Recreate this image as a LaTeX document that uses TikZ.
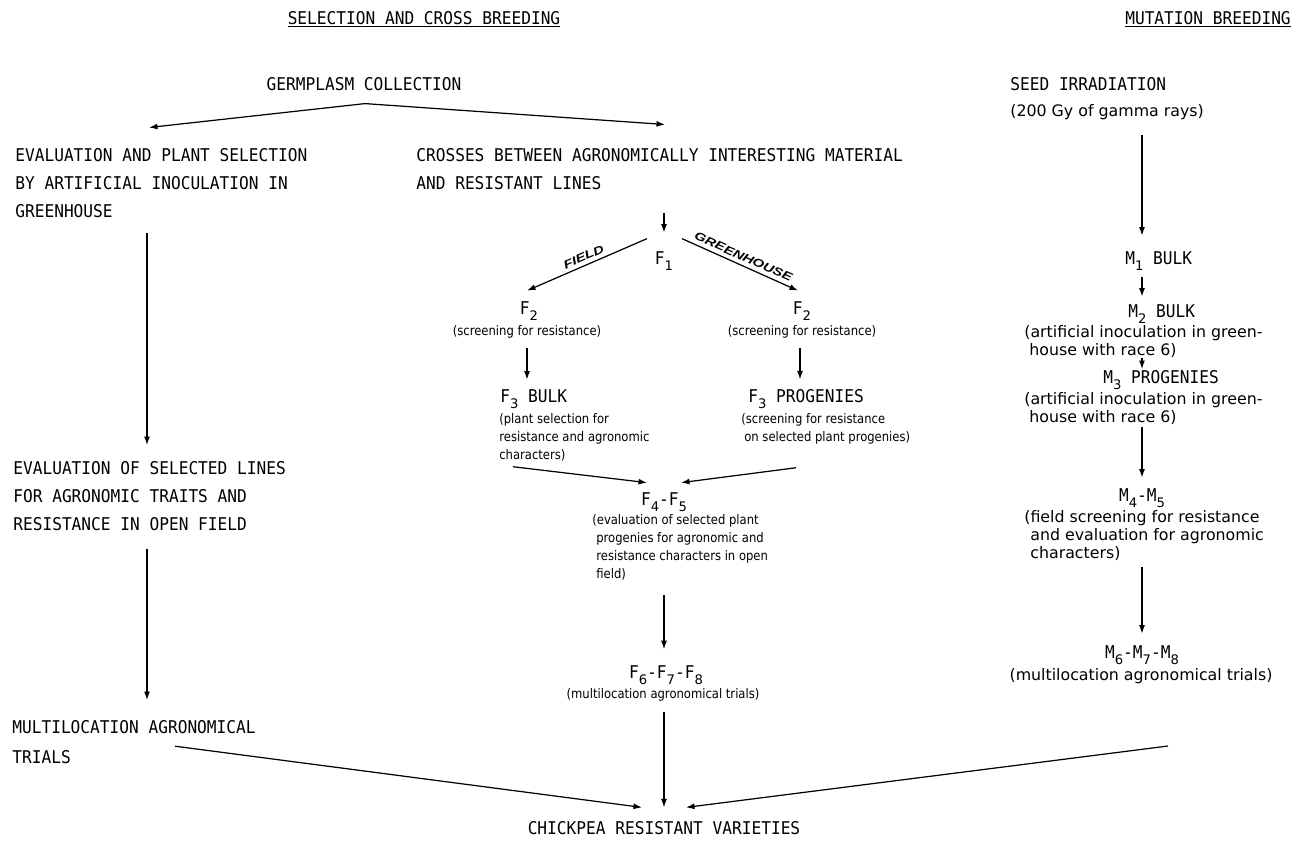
\documentclass[tikz,border=0pt]{standalone}
\usepackage{fontspec}
\usepackage{tikz}
\usetikzlibrary{arrows.meta,positioning,calc}
\newfontfamily\capsf[FakeStretch=0.92]{DejaVu Sans Mono}
\newfontfamily\descf{DejaVu Sans}
\newfontfamily\smallf[FakeStretch=0.88]{DejaVu Sans}
\newfontfamily\tagf[FakeStretch=1.3]{Liberation Sans}
\newcommand{\lo}[1]{\raisebox{-3.2pt}{\descf\fontsize{7.5}{8}\selectfont #1}}

\begin{document}
\begin{tikzpicture}[
  x=0.02cm, y=-0.02cm,
  caps/.style={font=\capsf\fontsize{10}{15.93}\selectfont, inner sep=0pt, align=left},
  desc/.style={font=\descf\fontsize{9}{10.24}\selectfont, inner sep=0pt, align=left},
  note/.style={font=\smallf\fontsize{7.5}{10.24}\selectfont, inner sep=0pt, align=left},
  tag/.style={font=\tagf\bfseries\itshape\fontsize{6.5}{7}\selectfont, inner sep=2.2pt},
  arr/.style={-{Latex[length=1.7mm,width=1.2mm]}, line width=0.7pt}
]
\useasboundingbox (0,0) rectangle (1306,842);
\coordinate (colM) at (664,0);
\coordinate (colFL) at (527,0);
\coordinate (colFR) at (800,0);
\coordinate (colR) at (1142,0);

\node[caps, anchor=base] (titleL) at (424,24) {\underline{SELECTION AND CROSS BREEDING}};
\node[caps, anchor=base] (titleR) at (1208,24) {\underline{MUTATION BREEDING}};
\node[caps, anchor=base] (germ) at (364,90.4) {GERMPLASM COLLECTION};

\node[caps, anchor=north west] (evalsel) at (15,148.5) {EVALUATION AND PLANT SELECTION\\BY ARTIFICIAL INOCULATION IN\\GREENHOUSE};
\node[caps, anchor=north west] (evalobs) at (13,461.6) {EVALUATION OF SELECTED LINES\\FOR AGRONOMIC TRAITS AND\\RESISTANCE IN OPEN FIELD};
\node[caps, anchor=north west] (multi) at (12,720.6) {MULTILOCATION AGRONOMICAL\\[0.04cm]TRIALS};

\node[caps, anchor=north west] (crosses) at (416,148.5) {CROSSES BETWEEN AGRONOMICALLY INTERESTING MATERIAL\\AND RESISTANT LINES};
\node[caps, anchor=base] (f1) at (664,264.4) {F\lo{1}};
\node[caps, anchor=base] (f2l) at (529,314.4) {F\lo{2}};
\node[note] (f2ldesc) at (527,332) {(screening for resistance)};
\node[caps, anchor=base] (f2r) at (802,314.4) {F\lo{2}};
\node[note] (f2rdesc) at (802,332) {(screening for resistance)};
\node[caps, anchor=base west] (f3l) at (500,402.4) {F\lo{3} BULK};
\node[note, anchor=north west] (f3ldesc) at (499,413.6) {(plant selection for\\resistance and agronomic\\characters)};
\node[caps, anchor=base west] (f3r) at (748,402.4) {F\lo{3} PROGENIES};
\node[note, anchor=north west] (f3rdesc) at (741,413.6) {(screening for resistance\\\hspace*{0.06cm}on selected plant progenies)};
\node[caps, anchor=base] (f45) at (664,505.4) {F\lo{4}-F\lo{5}};
\node[note, anchor=north west] (f45desc) at (592,514.6) {(evaluation of selected plant\\\hspace*{0.08cm}progenies for agronomic and\\\hspace*{0.08cm}resistance characters in open\\\hspace*{0.08cm}field)};
\node[caps, anchor=base] (f678) at (666,678.4) {F\lo{6}-F\lo{7}-F\lo{8}};
\node[note] (f678desc) at (663,695) {(multilocation agronomical trials)};
\node[caps, anchor=base] (chick) at (664,834.4) {CHICKPEA RESISTANT VARIETIES};

\node[caps, anchor=base west] (seed) at (1010,90.4) {SEED IRRADIATION};
\node[desc, anchor=west] (seeddesc) at (1010,112) {(200 Gy of gamma rays)};
\node[caps, anchor=base west] (m1) at (1125,264.4) {M\lo{1} BULK};
\node[caps, anchor=base west] (m2) at (1128,317.4) {M\lo{2} BULK};
\node[desc, anchor=north west] (m2desc) at (1024,325.3) {(artificial inoculation in green-\\\hspace*{0.1cm}house with race 6)};
\node[caps, anchor=base west] (m3) at (1103,383.4) {M\lo{3} PROGENIES};
\node[desc, anchor=north west] (m3desc) at (1024,392.3) {(artificial inoculation in green-\\\hspace*{0.1cm}house with race 6)};
\node[caps, anchor=base] (m45) at (1142,501.4) {M\lo{4}-M\lo{5}};
\node[desc, anchor=north west] (m45desc) at (1024,510.3) {(field screening for resistance\\\hspace*{0.12cm}and evaluation for agronomic\\\hspace*{0.12cm}characters)};
\node[caps, anchor=base] (m678) at (1142,658.4) {M\lo{6}-M\lo{7}-M\lo{8}};
\node[desc] (m678desc) at (1141,676) {(multilocation agronomical trials)};

\draw[arr] ($(germ.south)+(1,12.6)$) -- ($(evalsel.north west)+(134,-21)$);
\draw[arr] ($(germ.south)+(1,12.6)$) -- ($(crosses.north west)+(249,-24)$);
\draw[arr] ($(evalsel.south west)+(132,14.6)$) -- ($(evalobs.north west)+(134,-16.6)$);
\draw[arr] ($(evalobs.south west)+(134,17.6)$) -- ($(multi.north west)+(135,-20.6)$);

\draw[arr] ($(crosses.south -| colM)+(0,22.6)$) -- ($(f1.north -| colM)+(0,-18.6)$);
\draw[arr] ($(f1.north)+(-17,-12.6)$) -- node[tag, above, sloped] {FIELD} ($(f2l.north)+(-2,-10.6)$);
\draw[arr] ($(f1.north)+(18,-12.6)$) -- node[tag, above, sloped] {GREENHOUSE} ($(f2r.north)+(-4,-10.6)$);
\draw[arr] ($(f2ldesc.south -| colFL)+(0,9.6)$) -- ($(f3l.north -| colFL)+(0,-9.6)$);
\draw[arr] ($(f2rdesc.south -| colFR)+(0,9.6)$) -- ($(f3r.north -| colFR)+(0,-9.6)$);
\draw[arr] ($(f3ldesc.south west)+(14,4.7)$) -- ($(f45.north)+(-17,-9.6)$);
\draw[arr] ($(f3rdesc.south west)+(55,22.7)$) -- ($(f45.north)+(17,-9.6)$);
\draw[arr] ($(f45desc.south -| colM)+(0,14)$) -- ($(f678.north -| colM)+(0,-16)$);
\draw[arr] ($(f678desc.south -| colM)+(0,10.6)$) -- ($(chick.north -| colM)+(0,-13.6)$);

\draw[arr] ($(seeddesc.south -| colR)+(0,15)$) -- ($(m1.north -| colR)+(0,-15.6)$);
\draw[arr] ($(m1.base -| colR)+(0,12.6)$) -- ($(m2.north -| colR)+(0,-7.6)$);
\draw[arr] ($(m2desc.south -| colR)+(0,0)$) -- ($(m3.north -| colR)+(0,-1)$);
\draw[arr] ($(m3desc.south -| colR)+(0,2)$) -- ($(m45.north -| colR)+(0,-10.6)$);
\draw[arr] ($(m45desc.south -| colR)+(0,6)$) -- ($(m678.north -| colR)+(0,-11.6)$);

\draw[arr] ($(multi.south west)+(163,-18.4)$) -- ($(chick.north)+(-22,-13.6)$);
\draw[arr] ($(m678desc.south)+(27,62)$) -- ($(chick.north)+(22,-13.6)$);
\end{tikzpicture}
\end{document}
